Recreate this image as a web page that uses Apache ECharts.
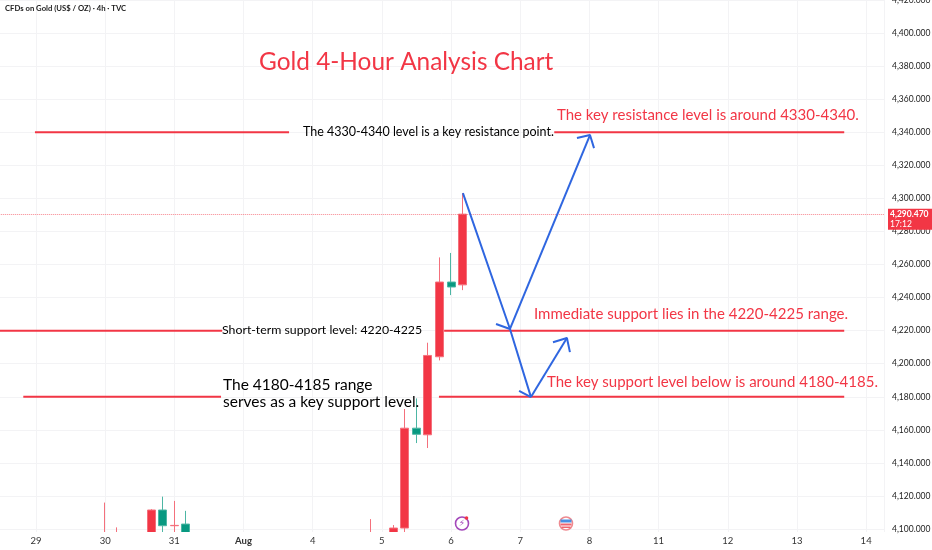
<!DOCTYPE html>
<html><head><meta charset="utf-8">
<style>html,body{margin:0;padding:0;background:#fff}#c{width:932px;height:550px}</style>
<script src="https://cdn.jsdelivr.net/npm/echarts@6/dist/echarts.min.js"></script>
</head><body><div id="c"></div>
<script>
// x is the 4-hour slot number, counted from the first labelled day
var dayLabels = ['29','30','31','Aug','4','5','6','7','8','11','12','13','14'];
var priceTicks = [4100,4120,4140,4160,4180,4200,4220,4240,4260,4280,4300,4320,4340,4360,4380,4400,4420];
// [slot, open, close, low, high]
var candles = [
  [6,4090,4091,4085,4116],
  [7,4090,4091,4085,4101],
  [10,4090,4111.5,4085,4112],
  [11,4111.5,4102,4097,4119.6],
  [12,4102,4102.2,4090,4117],
  [13,4103,4090,4085,4111],
  [29,4090,4091,4085,4106],
  [31,4092,4100.6,4090,4102.4],
  [32,4100.6,4161,4096,4172.6],
  [33,4161,4157.3,4152,4179],
  [34,4157,4205,4149,4212.7],
  [35,4204.2,4249.4,4202,4264.3],
  [36,4249.4,4246.4,4241.5,4267],
  [37,4247.7,4290.47,4244.5,4303.2]
];
var lastPrice = 4290.47;
var levelLines = [
  [[-0.09,4340],[21.95,4340]],
  [[44.95,4340],[70.1,4340]],
  [[-4,4220],[16.15,4220]],
  [[35.4,4220],[70.1,4220]],
  [[-1.1,4180],[16.05,4180]],
  [[34.95,4180],[70.1,4180]]
];
var arrowPaths = [
  [[37.03,4303.2],[41.11,4221],[42.93,4179.8]],
  [[39.9,4224],[41.11,4221]],
  [[41.9,4183.5],[42.93,4179.8]],
  [[41.11,4221],[48.05,4338.3]],
  [[46.92,4336.5],[48.05,4338.3],[48.4,4330.4]],
  [[42.93,4179.8],[46.05,4215.5]],
  [[44.84,4213],[46.05,4215.5],[46.31,4207]]
];
var RED='#F23645', BLUE='#2F66E0', FONT='Lato, "Noto Sans", sans-serif';
function txt(x,y,s,size,color,weight){
  return {type:'text',x:x,y:y,z:20,style:{text:s,fontSize:size,fill:color,fontFamily:FONT,fontWeight:weight||'normal',textVerticalAlign:'middle'}};
}
var series = [{
  type:'candlestick',xAxisIndex:0,data:candles,encode:{x:0,y:[1,2,3,4]},barWidth:8.5,clip:true,z:3,
  itemStyle:{color:RED,color0:'#089981',borderColor:'#F4707C',borderColor0:'#4DB6A4',borderWidth:1}
},{
  type:'line',data:[],z:2,silent:true,
  markLine:{silent:true,symbol:'none',animation:false,
    lineStyle:{color:'rgba(242,54,69,0.6)',type:'dotted',width:1},
    label:{position:'end',distance:4,offset:[0,5],formatter:'{a|4,290.470}\n{b|17:12}',backgroundColor:RED,padding:[1,6,1,2],
      rich:{a:{color:'#fff',fontSize:8.5,lineHeight:10,fontFamily:FONT,fontWeight:'bold'},b:{color:'#fff',fontSize:8.5,lineHeight:9,fontFamily:FONT}}},
    data:[{yAxis:lastPrice}]}
}];
levelLines.forEach(function(p){
  series.push({type:'line',data:p,symbol:'none',silent:true,z:4,lineStyle:{color:RED,width:2}});
});
arrowPaths.forEach(function(p){
  series.push({type:'line',data:p,symbol:'none',silent:true,z:5,lineStyle:{color:BLUE,width:2}});
});
var chart = echarts.init(document.getElementById('c'),null,{renderer:'canvas'});
chart.setOption({
  animation:false,backgroundColor:'#fff',
  title:{text:'Gold 4-Hour Analysis Chart',left:254,top:45,textStyle:{color:RED,fontSize:24.4,fontWeight:'normal',fontFamily:FONT}},
  grid:{left:-33.2,right:48,top:0,bottom:18,containLabel:false,outerBoundsMode:'none'},
  xAxis:[{type:'value',min:-6,max:73.55,interval:6,
    axisLine:{show:false},axisTick:{show:false},axisLabel:{show:false},
    splitLine:{show:true,lineStyle:{color:'#f3f3f5',width:1}}
  },{type:'value',position:'bottom',min:-6,max:73.55,interval:6,z:6,
    axisLine:{show:false},axisTick:{show:false},splitLine:{show:false},
    axisLabel:{showMinLabel:false,showMaxLabel:false,margin:4,color:'#333',fontSize:9.5,fontFamily:FONT,
      formatter:function(v){var s=dayLabels[v/6];return s===undefined?'':(s==='Aug'?'{b|Aug}':s);},
      rich:{b:{fontWeight:'bold',fontSize:9.5,color:'#333',fontFamily:FONT}}}
  }],
  yAxis:{type:'value',position:'right',min:4098.2,max:4420,
    axisLine:{show:false},axisTick:{show:false,customValues:priceTicks},
    splitLine:{show:true,lineStyle:{color:'#f3f3f5',width:1}},
    axisLabel:{customValues:priceTicks,margin:8,color:'#222',fontSize:8.5,fontFamily:FONT,
      formatter:function(v){return v.toLocaleString('en-US')+'.000';}}
  },
  series:series,
  graphic:[
    {type:'rect',z:4,shape:{x:0,y:532,width:884,height:18},style:{fill:'#fff'}},
    txt(5,9,'CFDs on Gold (US$ / OZ) · 4h · TVC',7.7,'#222','bold'),
    txt(303,132,'The 4330-4340 level is a key resistance point.',12.5,'#000'),
    txt(222,330,'Short-term support level: 4220-4225',12.3,'#000'),
    txt(223,385,'The 4180-4185 range',15.5,'#000'),
    txt(223,402,'serves as a key support level.',15.5,'#000'),
    txt(557,115,'The key resistance level is around 4330-4340.',15,RED),
    txt(534,314,'Immediate support lies in the 4220-4225 range.',15,RED),
    txt(547,382,'The key support level below is around 4180-4185.',15,RED),
    {type:'circle',z:20,shape:{cx:462,cy:523.5,r:6.5},style:{fill:'#fff',stroke:'#A347BA',lineWidth:1.6}},
    {type:'text',z:21,x:462,y:523.5,style:{text:'⚡',fontSize:9,fill:'#A347BA',textAlign:'center',textVerticalAlign:'middle',fontFamily:'"DejaVu Sans"'}},
    {type:'circle',z:21,shape:{cx:466.5,cy:518,r:1.8},style:{fill:'#F23645'}},
    {type:'circle',z:20,shape:{cx:566,cy:523.5,r:6.5},style:{fill:'#fff',stroke:'#EE8A90',lineWidth:1.6}},
    {type:'rect',z:21,shape:{x:560.5,y:519.5,width:11,height:3},style:{fill:'#4A90E2'}},
    {type:'rect',z:21,shape:{x:560.5,y:523.5,width:11,height:2},style:{fill:'#F0656F'}},
    {type:'rect',z:21,shape:{x:561.5,y:526.5,width:9,height:1.5},style:{fill:'#F0656F'}}
  ]
});
</script></body></html>
